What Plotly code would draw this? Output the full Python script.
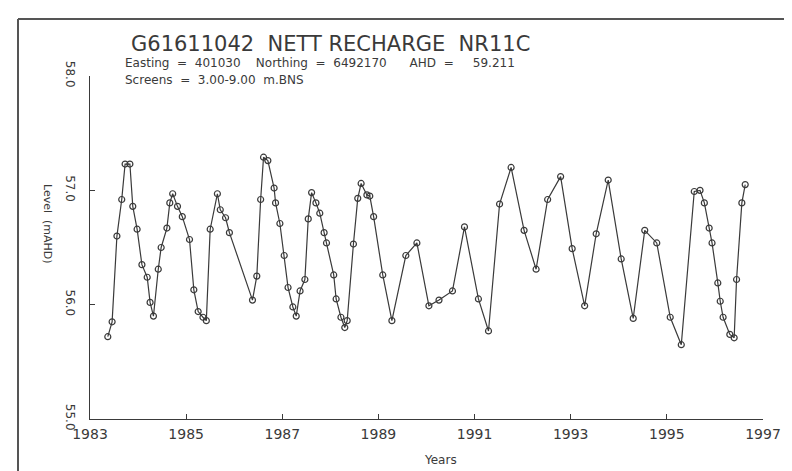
import plotly.graph_objects as go

years = [1983.37, 1983.46, 1983.56, 1983.66, 1983.73, 1983.83, 1983.89, 1983.98,
         1984.08, 1984.19, 1984.25, 1984.32, 1984.42, 1984.48, 1984.60, 1984.66,
         1984.72, 1984.82, 1984.92, 1985.07, 1985.16, 1985.25, 1985.35, 1985.42,
         1985.50, 1985.65, 1985.71, 1985.82, 1985.90, 1986.38, 1986.47, 1986.55,
         1986.61, 1986.70, 1986.83, 1986.86, 1986.95, 1987.04, 1987.12, 1987.22,
         1987.29, 1987.37, 1987.47, 1987.54, 1987.61, 1987.70, 1987.78, 1987.87,
         1987.92, 1988.07, 1988.12, 1988.22, 1988.30, 1988.35, 1988.48, 1988.57,
         1988.64, 1988.76, 1988.82, 1988.90, 1989.09, 1989.28, 1989.57, 1989.80,
         1990.05, 1990.26, 1990.54, 1990.79, 1991.08, 1991.29, 1991.52, 1991.76,
         1992.03, 1992.28, 1992.52, 1992.79, 1993.03, 1993.29, 1993.53, 1993.78,
         1994.05, 1994.30, 1994.54, 1994.79, 1995.07, 1995.30, 1995.57, 1995.69,
         1995.78, 1995.88, 1995.94, 1996.06, 1996.11, 1996.17, 1996.31, 1996.40,
         1996.45, 1996.56, 1996.63]

levels = [55.72, 55.85, 56.60, 56.92, 57.23, 57.23, 56.86, 56.66,
          56.35, 56.24, 56.02, 55.90, 56.31, 56.50, 56.67, 56.89,
          56.97, 56.86, 56.77, 56.57, 56.13, 55.94, 55.89, 55.86,
          56.66, 56.97, 56.83, 56.76, 56.63, 56.04, 56.25, 56.92,
          57.29, 57.26, 57.02, 56.89, 56.71, 56.43, 56.15, 55.98,
          55.90, 56.12, 56.22, 56.75, 56.98, 56.89, 56.80, 56.63,
          56.54, 56.26, 56.05, 55.89, 55.80, 55.86, 56.53, 56.93,
          57.06, 56.96, 56.95, 56.77, 56.26, 55.86, 56.43, 56.54,
          55.99, 56.04, 56.12, 56.68, 56.05, 55.77, 56.88, 57.20,
          56.65, 56.31, 56.92, 57.12, 56.49, 55.99, 56.62, 57.09,
          56.40, 55.88, 56.65, 56.54, 55.89, 55.65, 56.99, 57.00,
          56.89, 56.67, 56.54, 56.19, 56.03, 55.89, 55.74, 55.71,
          56.22, 56.89, 57.05]

x_ticks = [1983, 1985, 1987, 1989, 1991, 1993, 1995, 1997]
x_tick_labels = ["1983", "1985", "1987", "1989", "1991", "1993", "1995", "1997"]
y_ticks = [55.0, 56.0, 57.0, 58.0]
y_tick_labels = ["55.0", "56.0", "57.0", "58.0"]

title_text = "G61611042  NETT RECHARGE  NR11C"
sub1 = "Easting  =  401030    Northing  =  6492170      AHD  =     59.211"
sub2 = "Screens  =  3.00-9.00  m.BNS"

W, H = 792, 471
L, R, T, B = 82, 755, 68, 411
pw, ph = R - L, B - T

def px(x):
    return (x - L) / pw

def py(y):
    return (B - y) / ph

ink = "#3a3a3a"
font = "DejaVu Sans"

fig = go.Figure()
fig.add_trace(go.Scatter(
    x=years, y=levels, mode="lines+markers",
    line=dict(color=ink, width=1.2),
    marker=dict(symbol="circle-open", size=6, color=ink, line=dict(width=1.2, color=ink)),
    showlegend=False, hoverinfo="skip",
))

fig.update_layout(
    width=W, height=H,
    margin=dict(l=L, r=W - R, t=T, b=H - B),
    paper_bgcolor="white", plot_bgcolor="white",
    font=dict(family=font, color=ink),
    xaxis=dict(
        range=[1983, 1997], tickmode="array", tickvals=x_ticks, ticktext=x_tick_labels,
        showgrid=False, zeroline=False, showline=True, linecolor=ink, linewidth=1.3,
        ticks="inside", ticklen=5, tickcolor=ink, tickwidth=1,
        tickfont=dict(family=font, size=14, color=ink), ticklabelstandoff=2,
    ),
    yaxis=dict(
        range=[55, 58], tickmode="array", tickvals=y_ticks, ticktext=y_tick_labels,
        showgrid=False, zeroline=False, showline=True, linecolor=ink, linewidth=1.3,
        ticks="inside", ticklen=5, tickcolor=ink, tickwidth=1, tickangle=90,
        tickfont=dict(family=font, size=12, color=ink), ticklabelstandoff=8,
    ),
    shapes=[
        dict(type="line", xref="paper", yref="paper", x0=px(10), x1=px(W + 5),
             y0=py(11), y1=py(11), line=dict(color="#555", width=2)),
        dict(type="line", xref="paper", yref="paper", x0=px(10), x1=px(10),
             y0=py(11), y1=py(H + 5), line=dict(color="#555", width=2)),
    ],
    annotations=[
        dict(text=title_text, xref="paper", yref="paper", x=px(121), y=py(36),
             xanchor="left", yanchor="middle", showarrow=False,
             font=dict(family=font, size=21, color=ink)),
        dict(text=sub1, xref="paper", yref="paper", x=px(115), y=py(55),
             xanchor="left", yanchor="middle", showarrow=False,
             font=dict(family=font, size=12, color=ink)),
        dict(text=sub2, xref="paper", yref="paper", x=px(115), y=py(72),
             xanchor="left", yanchor="middle", showarrow=False,
             font=dict(family=font, size=12, color=ink)),
        dict(text="Level  (mAHD)", xref="paper", yref="paper", x=px(40), y=py(216),
             xanchor="center", yanchor="middle", showarrow=False, textangle=90,
             font=dict(family=font, size=11, color=ink)),
        dict(text="Years", xref="paper", yref="paper", x=px(432), y=py(452),
             xanchor="center", yanchor="middle", showarrow=False,
             font=dict(family=font, size=12, color=ink)),
    ],
)

fig.write_html("out.html")
